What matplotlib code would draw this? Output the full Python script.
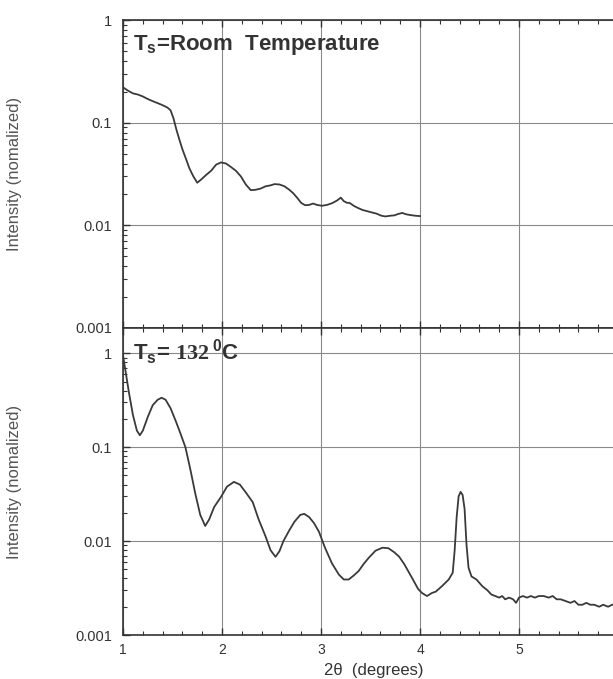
import numpy as np
import matplotlib
matplotlib.use("Agg")
import matplotlib.pyplot as plt
from matplotlib.ticker import FixedLocator, MultipleLocator, LogLocator, NullFormatter

plt.rcParams['font.family'] = ['Liberation Sans', 'DejaVu Sans']
plt.rcParams['mathtext.fontset'] = 'custom'
plt.rcParams['mathtext.sf'] = 'Liberation Sans:bold'
plt.rcParams['mathtext.rm'] = 'Liberation Serif:bold'
plt.rcParams['mathtext.bf'] = 'Liberation Sans:bold'

# --- data ---
# room temperature scan
x_rt = [1.00, 1.05, 1.10, 1.15, 1.20, 1.25, 1.30, 1.35, 1.40, 1.45, 1.48, 1.51, 1.54,
        1.57, 1.60, 1.63, 1.67, 1.71, 1.75, 1.79, 1.84, 1.89, 1.94, 1.99, 2.04, 2.09,
        2.14, 2.19, 2.24, 2.29, 2.34, 2.39, 2.44, 2.49, 2.53, 2.58, 2.63, 2.68, 2.72,
        2.76, 2.80, 2.84, 2.88, 2.92, 2.96, 3.01, 3.06, 3.11, 3.16, 3.20, 3.23, 3.26,
        3.29, 3.33, 3.37, 3.42, 3.47, 3.52, 3.56, 3.61, 3.65, 3.70, 3.74, 3.78, 3.82,
        3.86, 3.90, 3.95, 4.00]
y_rt = [0.221, 0.205, 0.193, 0.188, 0.180, 0.170, 0.162, 0.155, 0.148, 0.140, 0.132,
        0.110, 0.085, 0.068, 0.055, 0.046, 0.036, 0.030, 0.026, 0.028, 0.031, 0.034,
        0.039, 0.041, 0.040, 0.037, 0.034, 0.030, 0.025, 0.022, 0.0222, 0.0228, 0.024,
        0.0245, 0.0252, 0.0250, 0.0240, 0.0222, 0.0205, 0.0185, 0.0165, 0.0157, 0.0158,
        0.0163, 0.0158, 0.0155, 0.0158, 0.0164, 0.0174, 0.0186, 0.0172, 0.0166, 0.0165,
        0.0155, 0.0148, 0.0141, 0.0137, 0.0133, 0.0130, 0.0124, 0.0122, 0.0124, 0.0125,
        0.0129, 0.0132, 0.0128, 0.0126, 0.0124, 0.0123]

# Ts = 132 C scan
x_132 = [1.00, 1.03, 1.06, 1.10, 1.14, 1.17, 1.20, 1.25, 1.30, 1.35, 1.39, 1.43, 1.48,
         1.53, 1.58, 1.63, 1.68, 1.73, 1.78, 1.83, 1.87, 1.92, 1.99, 2.05, 2.12, 2.18,
         2.24, 2.31, 2.37, 2.44, 2.49, 2.54, 2.58, 2.62, 2.67, 2.73, 2.79, 2.83, 2.88,
         2.93, 2.98, 3.04, 3.11, 3.18, 3.23, 3.28, 3.33, 3.38, 3.43, 3.48, 3.55, 3.62,
         3.68, 3.74, 3.79, 3.84, 3.89, 3.94, 3.98, 4.02, 4.07, 4.12, 4.16, 4.22, 4.29,
         4.33, 4.35, 4.37, 4.39, 4.41, 4.43, 4.45, 4.47, 4.49, 4.52, 4.57, 4.63, 4.68,
         4.72, 4.76, 4.80, 4.83, 4.86, 4.90, 4.94, 4.97, 5.00, 5.04, 5.08, 5.12, 5.16,
         5.20, 5.25, 5.30, 5.34, 5.38, 5.42, 5.47, 5.52, 5.56, 5.60, 5.64, 5.68, 5.72,
         5.76, 5.81, 5.85, 5.90, 5.94, 6.00]
y_132 = [0.95, 0.60, 0.38, 0.22, 0.15, 0.134, 0.15, 0.21, 0.28, 0.32, 0.336, 0.32, 0.26,
         0.193, 0.14, 0.10, 0.058, 0.032, 0.019, 0.0145, 0.017, 0.023, 0.0296, 0.038,
         0.0427, 0.040, 0.033, 0.026, 0.017, 0.0112, 0.008, 0.0068, 0.0078, 0.0100,
         0.0125, 0.016, 0.019, 0.0195, 0.018, 0.0155, 0.0125, 0.0085, 0.0058, 0.0044,
         0.0039, 0.0039, 0.0043, 0.0048, 0.0057, 0.0066, 0.0079, 0.0085, 0.0084, 0.0076,
         0.0068, 0.0057, 0.0046, 0.0037, 0.0031, 0.0028, 0.0026, 0.0028, 0.0029, 0.0033,
         0.0039, 0.0046, 0.0080, 0.0180, 0.030, 0.0334, 0.031, 0.022, 0.0090, 0.0052,
         0.0042, 0.0039, 0.0033, 0.0030, 0.0027, 0.0026, 0.0025, 0.0026, 0.0024, 0.0025,
         0.0024, 0.0022, 0.0025, 0.0026, 0.0025, 0.0026, 0.0025, 0.0026, 0.0026, 0.0025,
         0.0026, 0.0024, 0.0024, 0.0023, 0.0022, 0.0023, 0.0021, 0.0021, 0.0022, 0.0021,
         0.0021, 0.0020, 0.0021, 0.0020, 0.0021, 0.0021]

x_ticks = [1, 2, 3, 4, 5]
x_ticklabels = ["1", "2", "3", "4", "5"]
y_ticks = [0.001, 0.01, 0.1, 1]
y_ticklabels = ["0.001", "0.01", "0.1", "1"]

line_col = '#3a3a3a'
grid_col = '#8a8a8a'
frame_col = '#333333'

fig = plt.figure(figsize=(6.13, 6.79), dpi=100)
left, width = 0.2007, 0.8075
ax1 = fig.add_axes([left, 0.517, width, 0.4535])
ax2 = fig.add_axes([left, 0.0648, width, 0.4522])


def style(ax, ytop):
    ax.set_yscale('log')
    ax.set_xlim(1, 6)
    ax.set_ylim(0.001, ytop)
    ax.xaxis.set_major_locator(FixedLocator(x_ticks))
    ax.xaxis.set_minor_locator(MultipleLocator(0.2))
    ax.yaxis.set_major_locator(FixedLocator(y_ticks))
    ax.set_yticklabels(y_ticklabels)
    ax.yaxis.set_minor_locator(LogLocator(base=10, subs=np.arange(2, 10)))
    ax.yaxis.set_minor_formatter(NullFormatter())
    ax.grid(True, which='major', color=grid_col, lw=0.8)
    ax.tick_params(which='both', direction='in', top=True, right=False,
                   color=frame_col)
    ax.tick_params(which='major', length=5, width=1.0, labelsize=10.5,
                   labelcolor='#333333', pad=8)
    ax.tick_params(which='minor', length=3, width=0.8)
    for s in ax.spines.values():
        s.set_color(frame_col)
        s.set_linewidth(1.2)
    ax.set_ylabel("Intensity (nomalized)", fontsize=12, color='#555555')
    ax.yaxis.set_label_coords(-0.204, 0.5)


style(ax1, 1)
style(ax2, 1.86)

ax1.plot(x_rt, y_rt, color=line_col, lw=1.3)
ax2.plot(x_132, y_132, color=line_col, lw=1.3)

ax1.tick_params(axis='x', labelbottom=False)
ax2.set_xticks(x_ticks)
ax2.set_xticklabels(x_ticklabels)
ax2.tick_params(axis='x', which='major', pad=6, labelsize=10)
# grid line at 6 (tick itself off the labelled range)
ax1.axvline(6, color=grid_col, lw=0.8)
ax2.axvline(6, color=grid_col, lw=0.8)

ax1.text(0.02, 0.918, r"$\mathsf{T_s}$=Room  Temperature", transform=ax1.transAxes,
         fontsize=16, fontweight='bold', color='#333333', va='center', ha='left')
ax2.text(0.02, 0.922, r"$\mathsf{T_s}$= $\mathrm{132}\,^{\mathsf{0}}$C",
         transform=ax2.transAxes, fontsize=16, fontweight='bold', color='#333333',
         va='center', ha='left')

fig.text(374 / 613, 0.012, "2\u03b8  (degrees)", fontsize=12, color='#333333',
         ha='center', va='center')

fig.savefig("out.png", dpi=100)
